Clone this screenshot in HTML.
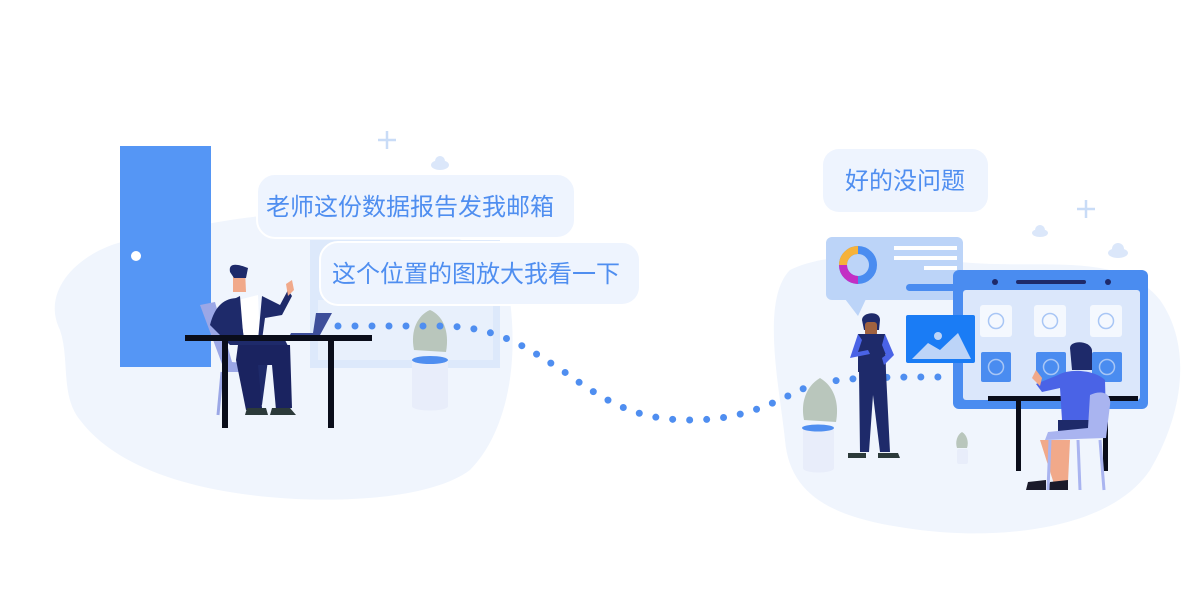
<!DOCTYPE html>
<html><head><meta charset="utf-8"><style>
html,body{margin:0;padding:0;background:#fff;width:1200px;height:600px;overflow:hidden}
svg{display:block}
text{font-family:"Liberation Sans","Noto Sans CJK SC",sans-serif}
</style></head><body>
<svg width="1200" height="600" viewBox="0 0 1200 600" xmlns="http://www.w3.org/2000/svg">
<path d="M60,330 C40,290 80,250 130,240 C200,225 260,210 330,215 C420,220 500,235 510,300 C520,380 500,440 470,470 C430,500 330,505 250,495 C170,485 110,460 80,420 C60,395 70,360 60,330 Z" fill="#f0f5fd"/>
<path d="M790,270 C830,250 900,255 960,262 C1040,270 1120,250 1160,300 C1195,350 1180,420 1150,470 C1110,530 1000,540 920,530 C840,520 790,500 785,440 C780,390 760,300 790,270 Z" fill="#f0f5fd"/>
<g stroke="#c9dcf7" stroke-width="2.5"><line x1="378" y1="140" x2="396" y2="140"/><line x1="387" y1="131" x2="387" y2="149"/><line x1="1077" y1="209" x2="1095" y2="209"/><line x1="1086" y1="200" x2="1086" y2="218"/></g>
<g fill="#dbe7fa"><ellipse cx="440" cy="165" rx="9" ry="5"/><circle cx="440" cy="161" r="5"/><ellipse cx="1040" cy="233" rx="8" ry="4"/><circle cx="1040" cy="230" r="5"/><ellipse cx="1118" cy="253" rx="10" ry="5"/><circle cx="1118" cy="249" r="6"/></g>
<rect x="310" y="240" width="190" height="128" fill="#dde9fb"/>
<rect x="318" y="300" width="175" height="60" fill="#e8f0fc"/>
<rect x="120" y="146" width="91" height="221" fill="#5596f5"/>
<circle cx="136" cy="256" r="5" fill="#fff"/>
<rect x="257" y="174" width="318" height="64" rx="18" fill="#eef4fe" stroke="#fff" stroke-width="2"/>
<text x="266" y="215" font-size="24" fill="#4f8ef0">老师这份数据报告发我邮箱</text>
<rect x="320" y="242" width="320" height="63" rx="18" fill="#eef4fe" stroke="#fff" stroke-width="2"/>
<text x="332" y="282" font-size="24" fill="#4f8ef0">这个位置的图放大我看一下</text>
<rect x="823" y="149" width="165" height="63" rx="16" fill="#eef4fe"/>
<text x="845" y="189" font-size="24" fill="#4f8ef0">好的没问题</text>
<path d="M200,305 L215,302 L232,362 L262,365 L262,372 L225,372 Z" fill="#9ba7e6"/>
<g stroke="#9ba7e6" stroke-width="3"><line x1="222" y1="372" x2="218" y2="415"/><line x1="255" y1="372" x2="260" y2="415"/></g>
<path d="M238,300 L258,295 L260,345 L233,345 Z" fill="#fff"/>
<path d="M232,300 L240,296 L244,345 L250,400 L262,405 L268,360 L290,350 L285,340 L258,340 L262,296 L280,305 L288,290 L292,296 L282,315 L265,318 L262,340 L232,340 Z" fill="#1e2a6a"/>
<path d="M210,325 C215,305 225,298 238,298 L245,345 L230,345 Z" fill="#1e2a6a"/>
<path d="M238,345 L290,345 L292,408 L276,410 L272,365 L258,365 L262,408 L246,410 L236,360 Z" fill="#1a2360"/>
<path d="M247,408 L266,408 L268,415 L245,415 Z M272,408 L290,408 L296,415 L270,415 Z" fill="#2c3a3a"/>
<path d="M233,269 L245,269 L246,292 L233,292 Z" fill="#f1a98a"/>
<path d="M230,272 C228,262 238,264 248,268 L246,278 L234,278 Z" fill="#1e2a6a"/>
<path d="M286,284 L292,280 L294,290 L288,296 Z" fill="#f1a98a"/>
<path d="M316,313 L332,313 L320,335 L290,335 L291,333 L313,333 Z" fill="#3d4e9a"/>
<rect x="185" y="335" width="187" height="6" fill="#0a0d1a"/>
<rect x="222" y="341" width="6" height="87" fill="#0a0d1a"/>
<rect x="328" y="341" width="6" height="87" fill="#0a0d1a"/>
<path d="M430,310 C418,315 410,330 414,350 L446,352 C450,330 442,315 430,310 Z" fill="#b9c6bc"/>
<path d="M412,360 L448,360 L448,406 C448,412 412,412 412,406 Z" fill="#e8edfa"/>
<ellipse cx="430" cy="360" rx="18" ry="4" fill="#4f8ef0"/>
<path d="M338,326 L440,326 C500,326 530,350 566,373 C610,405 640,420 690,420 C740,420 770,405 800,390 C830,378 860,377 940,377" fill="none" stroke="#4f8ef0" stroke-width="7" stroke-linecap="round" stroke-dasharray="0 17"/>
<rect x="826" y="237" width="137" height="63" rx="6" fill="#bcd4f8"/>
<path d="M845,299 L858,316 L866,299 Z" fill="#bcd4f8"/>
<circle cx="858" cy="265" r="15" fill="none" stroke="#4a8cf0" stroke-width="8"/>
<path d="M858,250 A15,15 0 0 0 843,265" fill="none" stroke="#f6b23a" stroke-width="8"/>
<path d="M843,265 A15,15 0 0 0 858,280" fill="none" stroke="#c32fc4" stroke-width="8"/>
<g fill="#fff"><rect x="894" y="246" width="63" height="4"/><rect x="894" y="256" width="63" height="4"/><rect x="924" y="266" width="33" height="4"/></g>
<rect x="906" y="284" width="51" height="7" rx="3.5" fill="#4a8cf0"/>
<rect x="953" y="270" width="195" height="139" rx="6" fill="#4a8cf0"/>
<rect x="963" y="290" width="177" height="110" rx="3" fill="#dbe7fb"/>
<circle cx="995" cy="282" r="3" fill="#1e2a6a"/><circle cx="1108" cy="282" r="3" fill="#1e2a6a"/>
<rect x="1016" y="280" width="70" height="4" rx="2" fill="#1e2a6a"/>
<g fill="#f4f8fe"><rect x="980" y="305" width="32" height="32" rx="3"/><rect x="1034" y="305" width="32" height="32" rx="3"/><rect x="1090" y="305" width="32" height="32" rx="3"/></g>
<g fill="#4a8cf0"><rect x="981" y="352" width="30" height="30" rx="2"/><rect x="1036" y="352" width="30" height="30" rx="2"/><rect x="1092" y="352" width="30" height="30" rx="2"/></g>
<g fill="none" stroke="#a8c6f5" stroke-width="1.5"><circle cx="996" cy="321" r="7.5"/><circle cx="1050" cy="321" r="7.5"/><circle cx="1106" cy="321" r="7.5"/><circle cx="996" cy="367" r="7.5"/><circle cx="1051" cy="367" r="7.5"/><circle cx="1107" cy="367" r="7.5"/></g>
<rect x="906" y="315" width="69" height="48" rx="2" fill="#1a7cf5"/>
<path d="M912,359 L928,343 L940,350 L958,333 L971,359 Z" fill="#bcd4f8"/>
<circle cx="938" cy="336" r="4" fill="#bcd4f8"/>
<rect x="988" y="396" width="150" height="5" fill="#0a0d1a"/>
<rect x="1016" y="401" width="5" height="70" fill="#0a0d1a"/>
<rect x="1103" y="401" width="5" height="70" fill="#0a0d1a"/>
<path d="M1070,348 C1070,340 1090,340 1092,350 L1092,370 L1072,370 Z" fill="#1e2a6a"/>
<path d="M1058,375 C1070,368 1095,370 1105,380 L1106,420 L1062,420 L1060,388 L1042,392 L1036,384 Z" fill="#4a63e6"/>
<path d="M1058,420 L1090,420 L1088,438 L1058,438 Z" fill="#1e2a6a"/>
<path d="M1040,440 L1058,440 L1062,482 L1054,484 Z M1052,440 L1070,440 L1068,482 L1060,484 Z" fill="#f1a98a"/>
<path d="M1028,482 L1046,480 L1046,490 L1026,490 Z M1050,482 L1068,480 L1068,490 L1048,490 Z" fill="#1a1a2a"/>
<path d="M1032,378 L1036,370 L1042,378 L1040,386 Z" fill="#f1a98a"/>
<path d="M1090,395 C1100,390 1112,392 1110,405 L1106,438 L1045,440 L1048,432 L1088,428 Z" fill="#a9b4f0"/>
<g stroke="#a9b4f0" stroke-width="3"><line x1="1050" y1="440" x2="1048" y2="490"/><line x1="1078" y1="440" x2="1080" y2="490"/><line x1="1100" y1="440" x2="1104" y2="490"/></g>
<path d="M820,378 C808,385 800,400 804,420 L836,422 C840,400 832,385 820,378 Z" fill="#b9c6bc"/>
<path d="M803,428 L834,428 L834,468 C834,474 803,474 803,468 Z" fill="#e8edfa"/>
<ellipse cx="818" cy="428" rx="16" ry="3.5" fill="#4f8ef0"/>
<path d="M962,432 C957,435 955,442 957,448 L967,448 C969,442 967,435 962,432 Z" fill="#b9c6bc"/>
<rect x="957" y="449" width="11" height="15" rx="2" fill="#e8edfa"/>
<path d="M862,320 C862,312 880,310 880,320 L879,330 L864,330 Z" fill="#1e2a6a"/>
<rect x="865" y="322" width="12" height="14" rx="3" fill="#a0623f"/>
<path d="M858,334 L885,334 L886,372 L858,372 Z" fill="#1e2a6a"/>
<path d="M858,334 L850,358 L870,354 L868,350 L858,352 L862,340 Z M885,334 L894,355 L884,365 L882,358 L886,355 L882,345 Z" fill="#4a63e6"/>
<path d="M859,372 L886,372 L890,452 L880,452 L873,395 L869,452 L860,452 Z" fill="#1e2a6a"/>
<path d="M848,453 L866,453 L866,458 L848,458 Z M878,453 L898,453 L900,458 L878,458 Z" fill="#2c3a3a"/>
</svg>
</body></html>
